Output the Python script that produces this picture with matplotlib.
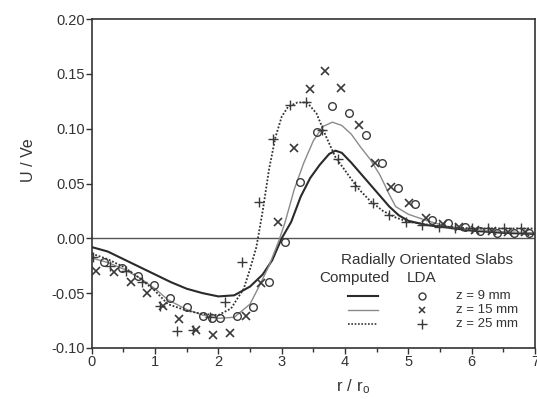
import numpy as np
import matplotlib
matplotlib.use("Agg")
import matplotlib.pyplot as plt

plt.rcParams['font.family'] = ['Liberation Sans', 'DejaVu Sans']

# LDA measurements
c_x = [0.2, 0.47, 0.73, 0.99, 1.24, 1.5, 1.76, 1.9, 2.03, 2.29, 2.55, 2.8, 3.06, 3.29, 3.55, 3.8,
       4.07, 4.33, 4.58, 4.84, 5.1, 5.37, 5.62, 5.89, 6.14, 6.4, 6.67, 6.9]
c_y = [-0.022, -0.027, -0.034, -0.043, -0.054, -0.063, -0.071, -0.073, -0.073, -0.071, -0.063, -0.040,
       -0.003, 0.051, 0.097, 0.121, 0.114, 0.094, 0.069, 0.046, 0.031, 0.017, 0.014, 0.010, 0.007,
       0.005, 0.005, 0.005]

x_x = [0.07, 0.35, 0.62, 0.87, 1.13, 1.38, 1.64, 1.92, 2.18, 2.43, 2.68, 2.94, 3.19, 3.44, 3.69, 3.94,
       4.22, 4.47, 4.73, 5.01, 5.28, 5.55, 5.8, 6.06, 6.32, 6.58, 6.84]
x_y = [-0.030, -0.031, -0.040, -0.050, -0.062, -0.074, -0.084, -0.088, -0.086, -0.071, -0.041, 0.015,
       0.082, 0.136, 0.153, 0.137, 0.103, 0.069, 0.047, 0.032, 0.019, 0.013, 0.010, 0.008, 0.007,
       0.006, 0.006]

p_x = [0.02, 0.28, 0.54, 0.80, 1.07, 1.34, 1.60, 1.86, 2.11, 2.37, 2.64, 2.87, 3.13, 3.39, 3.63, 3.89,
       4.16, 4.44, 4.69, 4.96, 5.22, 5.48, 5.74, 6.0, 6.26, 6.52, 6.78]
p_y = [-0.017, -0.025, -0.030, -0.040, -0.062, -0.085, -0.084, -0.072, -0.058, -0.022, 0.033, 0.091,
       0.122, 0.124, 0.099, 0.072, 0.048, 0.032, 0.021, 0.015, 0.012, 0.010, 0.009, 0.009, 0.009,
       0.009, 0.009]

# computed profiles
d_x = [0, 0.25, 0.5, 0.75, 1.0, 1.25, 1.5, 1.75, 2.0, 2.25, 2.5, 2.7, 2.85, 3.0, 3.15, 3.3, 3.45, 3.6,
       3.75, 3.85, 3.95, 4.1, 4.25, 4.4, 4.55, 4.7, 4.85, 5.0, 5.3, 5.6, 6.0, 6.5, 7.0]
d_y = [-0.008, -0.012, -0.019, -0.026, -0.033, -0.040, -0.046, -0.050, -0.053, -0.052, -0.044, -0.033,
       -0.020, 0.000, 0.015, 0.038, 0.055, 0.067, 0.077, 0.080, 0.078, 0.069, 0.059, 0.049, 0.039,
       0.029, 0.021, 0.016, 0.012, 0.010, 0.007, 0.005, 0.004]

l_x = [0, 0.25, 0.5, 0.75, 1.0, 1.2, 1.5, 1.75, 2.0, 2.25, 2.5, 2.65, 2.8, 2.95, 3.05, 3.2, 3.35, 3.5,
       3.65, 3.8, 3.95, 4.1, 4.25, 4.4, 4.55, 4.7, 4.8, 5.0, 5.3, 5.6, 6.0, 6.5, 7.0]
l_y = [-0.018, -0.022, -0.028, -0.036, -0.046, -0.056, -0.065, -0.070, -0.073, -0.072, -0.060, -0.043,
       -0.025, -0.003, 0.014, 0.045, 0.069, 0.089, 0.102, 0.106, 0.103, 0.095, 0.083, 0.072, 0.058,
       0.040, 0.029, 0.022, 0.016, 0.011, 0.008, 0.006, 0.005]

t_x = [0, 0.25, 0.5, 0.75, 1.0, 1.2, 1.5, 1.75, 2.0, 2.2, 2.4, 2.5, 2.6, 2.7, 2.8, 2.9, 3.0, 3.1, 3.25,
       3.4, 3.55, 3.7, 3.85, 4.0, 4.2, 4.4, 4.6, 4.8, 5.0, 5.5, 6.0, 6.5, 7.0]
t_y = [-0.014, -0.019, -0.026, -0.036, -0.048, -0.060, -0.066, -0.069, -0.070, -0.064, -0.046, -0.028,
       -0.008, 0.025, 0.063, 0.092, 0.111, 0.120, 0.124, 0.124, 0.114, 0.093, 0.074, 0.062, 0.046,
       0.034, 0.025, 0.019, 0.015, 0.011, 0.009, 0.009, 0.009]

dark = '#2a2a2a'
light = '#8a8a8a'

fig = plt.figure(figsize=(5.37, 3.99), dpi=100)
ax = fig.add_axes([0.171, 0.128, 0.825, 0.824])

ax.axhline(0, color='#555555', lw=1.0)

ax.plot(d_x, d_y, color=dark, lw=1.5)
ax.plot(l_x, l_y, color=light, lw=1.0)
ax.plot(t_x, t_y, color='#333333', lw=1.3, linestyle=(0, (1, 1)))

ax.plot(c_x, c_y, 'o', mfc='none', mec='#3a3a3a', ms=5.5, mew=1.0)
ax.plot(x_x, x_y, 'x', color='#3a3a3a', ms=5.5, mew=1.2)
ax.plot(p_x, p_y, '+', color='#3a3a3a', ms=7, mew=1.0)

ax.set_xlim(0, 7)
ax.set_ylim(-0.10, 0.20)
ax.set_xticks(np.arange(0, 8, 1))
ax.set_xticks(np.arange(0.5, 7, 1), minor=True)
ax.set_yticks(np.arange(-0.10, 0.201, 0.05))
ax.set_yticklabels(['%.2f' % v for v in np.arange(-0.10, 0.201, 0.05)])
ax.tick_params(axis='both', which='major', direction='out', length=4, width=1.0,
               labelsize=10.5, colors='#333333', pad=1)
ax.tick_params(axis='x', which='minor', direction='out', length=3, width=1.0, colors='#333333')
for s in ax.spines.values():
    s.set_color('#333333')
    s.set_linewidth(1.2)

ax.set_ylabel('U / Ve', fontsize=11.5, color='#333333')
ax.yaxis.set_label_coords(-0.125, 0.57)
ax.set_xlabel(r'$\mathregular{r\ /\ r_o}$', fontsize=12, color='#333333')
ax.xaxis.set_label_coords(0.59, -0.09)

# legend, drawn by hand
tr = ax.transAxes
tc = '#333333'
ax.text(0.756, 0.266, 'Radially Orientated Slabs', transform=tr, ha='center', va='center',
        fontsize=11, color=tc)
ax.text(0.592, 0.212, 'Computed', transform=tr, ha='center', va='center', fontsize=11, color=tc)
ax.text(0.745, 0.212, 'LDA', transform=tr, ha='center', va='center', fontsize=11, color=tc)
rows = [0.158, 0.116, 0.074]
labels = ['z = 9 mm', 'z = 15 mm', 'z = 25 mm']
styles = [dict(color=dark, lw=1.5), dict(color=light, lw=1.0),
          dict(color='#333333', lw=1.2, linestyle=(0, (1, 1)))]
marks = [dict(marker='o', mfc='none', mec='#3a3a3a', ms=5, mew=1.0),
         dict(marker='x', color='#3a3a3a', ms=5, mew=1.1),
         dict(marker='+', color='#3a3a3a', ms=7, mew=1.0)]
for yy, lab, st, mk in zip(rows, labels, styles, marks):
    ax.plot([0.578, 0.646], [yy, yy], transform=tr, **st)
    ax.plot([0.745], [yy], transform=tr, linestyle='none', **mk)
    ax.text(0.822, yy, lab, transform=tr, ha='left', va='center', fontsize=9.5, color=tc)

fig.savefig('out.png', dpi=100)
